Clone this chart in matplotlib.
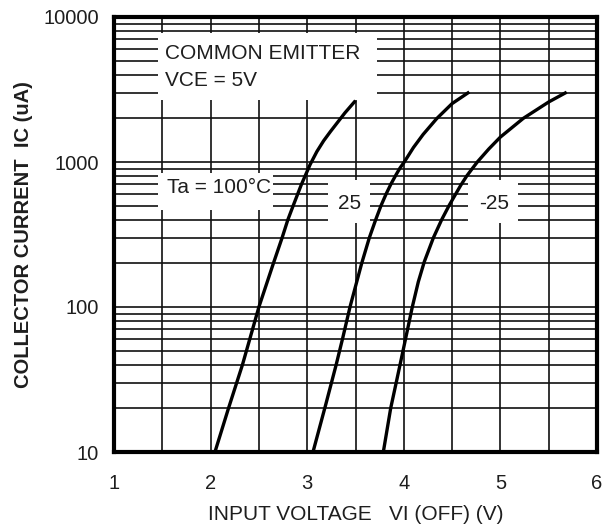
import numpy as np
import matplotlib
matplotlib.use("Agg")
import matplotlib.pyplot as plt
from matplotlib.patches import Rectangle

plt.rcParams['font.family'] = ['Liberation Sans', 'DejaVu Sans']

# curves: input voltage (V) vs collector current (uA)
vi_100 = [2.045, 2.185, 2.33, 2.50, 2.65, 2.74, 2.80, 2.855, 2.94, 3.03, 3.10, 3.17, 3.24, 3.39, 3.50]
ic_100 = [10, 20, 40, 100, 200, 300, 400, 500, 700, 960, 1180, 1400, 1620, 2180, 2650]

vi_25 = [3.06, 3.19, 3.30, 3.37, 3.443, 3.564, 3.643, 3.709, 3.764, 3.816, 3.867,
         3.919, 3.961, 4.005, 4.10, 4.20, 4.34, 4.50, 4.678]
ic_25 = [10, 21, 40, 62, 100, 200, 300, 400, 500, 600, 705,
         815, 910, 1000, 1259, 1549, 1990, 2529, 3040]

vi_m25 = [3.788, 3.864, 3.93, 3.995, 4.088, 4.15, 4.212, 4.306, 4.392, 4.468,
          4.53, 4.589, 4.651, 4.703, 4.761, 4.88, 5.00, 5.237, 5.50, 5.686]
ic_m25 = [10, 20, 32, 51, 100, 149, 205, 300, 400, 500,
          590, 690, 800, 890, 1000, 1230, 1486, 2000, 2594, 3030]

x_ticks = [1, 2, 3, 4, 5, 6]
y_ticks = [10, 100, 1000, 10000]

fig = plt.figure(figsize=(6.06, 5.26), dpi=100)
ax = fig.add_axes([114/606, 1-452/526, 483/606, 435/526])

ax.set_xlim(1, 6)
ax.set_yscale('log')
ax.set_ylim(10, 10000)

# grid: every 0.5 V, and every minor decade step
for v in np.arange(1.5, 6.0, 0.5):
    ax.axvline(v, color='#111111', lw=1.2, zorder=1)
for dec in [10, 100, 1000]:
    for m in range(1, 10):
        val = dec * m
        if 10 < val < 10000:
            ax.axhline(val, color='#111111', lw=1.2, zorder=1)

# white label boxes covering the grid
boxes = [(0.091, 0.809, 0.454, 0.154),
         (0.091, 0.556, 0.238, 0.085),
         (0.443, 0.526, 0.087, 0.099),
         (0.733, 0.526, 0.103, 0.099)]
for bx, by, bw, bh in boxes:
    ax.add_patch(Rectangle((bx, by), bw, bh, transform=ax.transAxes,
                           facecolor='white', edgecolor='none', zorder=2))

for vi, ic in [(vi_100, ic_100), (vi_25, ic_25), (vi_m25, ic_m25)]:
    ax.plot(vi, ic, color='black', lw=2.4, zorder=3, solid_capstyle='butt',
            solid_joinstyle='round')

tc = '#1e1e1e'
fs = 15
ax.text(0.106, 0.917, 'COMMON EMITTER', transform=ax.transAxes, fontsize=fs,
        color=tc, va='center', ha='left', zorder=4)
ax.text(0.106, 0.855, 'VCE = 5V', transform=ax.transAxes, fontsize=fs,
        color=tc, va='center', ha='left', zorder=4)
ax.text(0.110, 0.607, 'Ta = 100°C', transform=ax.transAxes, fontsize=fs,
        color=tc, va='center', ha='left', zorder=4)
ax.text(0.487, 0.572, '25', transform=ax.transAxes, fontsize=fs,
        color=tc, va='center', ha='center', zorder=4)
ax.text(0.787, 0.572, '-25', transform=ax.transAxes, fontsize=fs,
        color=tc, va='center', ha='center', zorder=4)

ax.set_xticks(x_ticks)
ax.set_xticklabels([str(t) for t in x_ticks])
ax.set_yticks(y_ticks)
ax.set_yticklabels([str(t) for t in y_ticks])
ax.yaxis.set_minor_locator(matplotlib.ticker.NullLocator())
ax.tick_params(axis='both', length=0, labelsize=14.5, labelcolor=tc)
ax.tick_params(axis='x', pad=16)
ax.tick_params(axis='y', pad=11)

for s in ax.spines.values():
    s.set_linewidth(3)
    s.set_color('black')
    s.set_zorder(5)

ax.set_xlabel('INPUT VOLTAGE   VI (OFF) (V)', fontsize=15, color=tc, labelpad=8.5)
ax.set_ylabel('COLLECTOR CURRENT  IC (uA)', fontsize=14.5, color=tc,
              fontweight='bold', labelpad=7)

fig.savefig('out.png', dpi=100)
